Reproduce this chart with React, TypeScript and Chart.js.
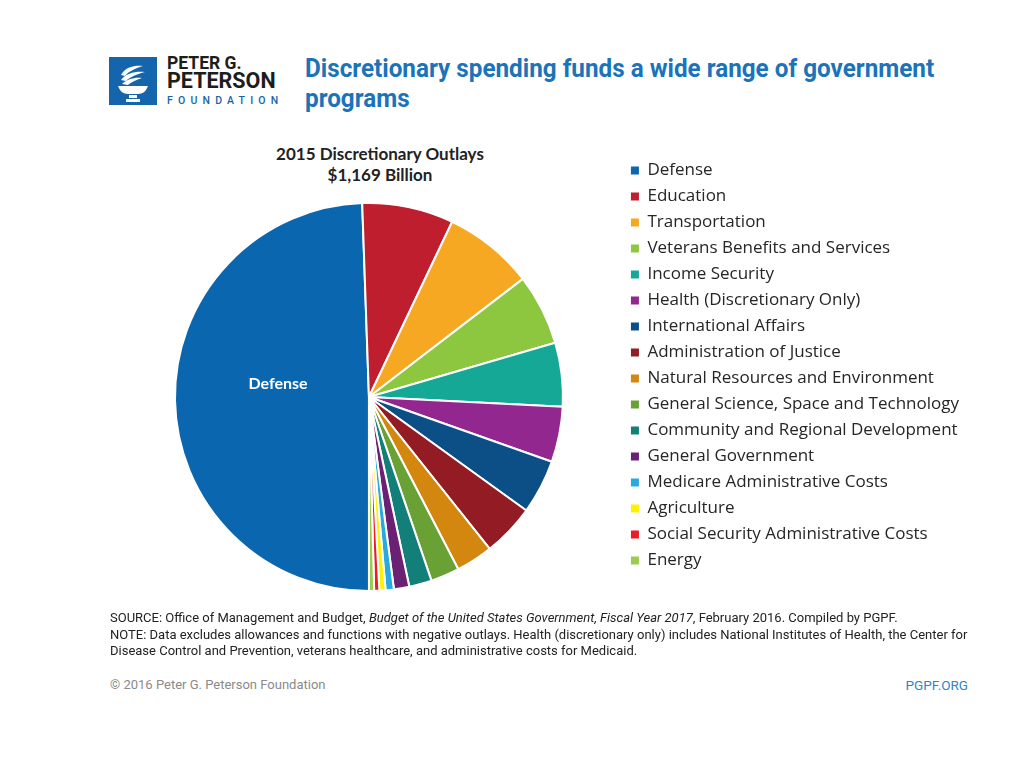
import React, { useEffect, useRef } from "react";
import { Chart, registerables } from "chart.js";

Chart.register(...registerables);

const categories = [
  "Defense",
  "Education",
  "Transportation",
  "Veterans Benefits and Services",
  "Income Security",
  "Health (Discretionary Only)",
  "International Affairs",
  "Administration of Justice",
  "Natural Resources and Environment",
  "General Science, Space and Technology",
  "Community and Regional Development",
  "General Government",
  "Medicare Administrative Costs",
  "Agriculture",
  "Social Security Administrative Costs",
  "Energy",
];

// 2015 discretionary outlays, billions of dollars
const outlays = [578, 89, 88, 69, 62, 54, 53, 51, 36, 28, 22, 15, 8, 6, 5, 5];

const sliceColors = [
  "#0b66b0",
  "#be1e2d",
  "#f7a823",
  "#8dc63f",
  "#16a897",
  "#92278f",
  "#0c4f87",
  "#931b23",
  "#d4870f",
  "#6aa134",
  "#128078",
  "#6b2173",
  "#28aae1",
  "#fff200",
  "#ed1c24",
  "#9ccb52",
];

const chartTitle = ["2015 Discretionary Outlays", "$1,169 Billion"];
const headline = ["Discretionary spending funds a wide range of government", "programs"];

const labelPlugin = {
  id: "defenseLabel",
  afterDatasetsDraw(chart: any) {
    const arc = chart.getDatasetMeta(0).data[0];
    if (!arc) return;
    const p = arc.getCenterPoint();
    const ctx = chart.ctx;
    ctx.save();
    ctx.fillStyle = "#ffffff";
    ctx.font = "bold 16px Lato, sans-serif";
    ctx.textAlign = "center";
    ctx.textBaseline = "middle";
    ctx.fillText(categories[0], p.x + 6, p.y - 15);
    ctx.restore();
  },
};

function PieChart() {
  const ref = useRef<HTMLCanvasElement>(null);
  useEffect(() => {
    if (!ref.current) return;
    const defaultGen = (Chart as any).overrides.pie.plugins.legend.labels.generateLabels;
    const chart = new Chart(ref.current, {
      type: "pie",
      data: {
        labels: categories,
        datasets: [
          {
            data: outlays,
            backgroundColor: sliceColors,
            borderColor: "#ffffff",
            borderWidth: 2,
            radius: 194,
          } as any,
        ],
      },
      options: {
        responsive: false,
        animation: false,
        rotation: 180,
        layout: { padding: 0 },
        plugins: {
          legend: {
            position: "right",
            align: "start",
            labels: {
              boxWidth: 8,
              boxHeight: 8,
              padding: 9,
              color: "#262626",
              font: { family: "'Open Sans'", size: 17 },
              generateLabels: (c: any) =>
                defaultGen(c).map((l: any) => ({ ...l, lineWidth: 0, strokeStyle: "rgba(0,0,0,0)" })),
            },
          },
          tooltip: { enabled: false },
          title: { display: false },
        },
      } as any,
      plugins: [labelPlugin],
    });
    return () => chart.destroy();
  }, []);
  return (
    <canvas
      ref={ref}
      width={853}
      height={488}
      style={{ position: "absolute", left: 116, top: 153, width: 853, height: 488 }}
    />
  );
}

function Logo() {
  return (
    <div style={{ position: "absolute", left: 109, top: 57 }}>
      <svg width="48" height="48" viewBox="0 0 48 48" style={{ position: "absolute", left: 0, top: 0 }}>
        <rect x="0" y="0" width="48" height="48" fill="#1565ad" />
        <path d="M12 18 C16 10, 26 8, 34 9 C27 11, 20 14, 16 19 Z" fill="#fff" />
        <path d="M12 23 C17 16, 27 14, 36 15 C28 17, 21 20, 17 24 Z" fill="#fff" />
        <path d="M13 27 C18 22, 26 20, 33 21 C27 23, 22 25, 19 28 Z" fill="#fff" />
        <path d="M9 29 L39 29 L37 33 C35 36, 31 37, 29 37 L19 37 C17 37, 13 36, 11 33 Z" fill="#fff" />
        <rect x="20" y="38" width="8" height="3" fill="#fff" />
        <rect x="17" y="42" width="14" height="3" fill="#fff" />
      </svg>
    </div>
  );
}

function LogoText() {
  const base: React.CSSProperties = {
    position: "absolute",
    left: 167,
    fontFamily: "Roboto, sans-serif",
    fontWeight: 700,
    color: "#1d1d1b",
    whiteSpace: "nowrap",
  };
  return (
    <>
      <div style={{ ...base, top: 55, fontSize: 17.5, lineHeight: "17px" }}>PETER G.</div>
      <div style={{ ...base, top: 70, fontSize: 21.5, lineHeight: "21px" }}>PETERSON</div>
      <div
        style={{
          ...base,
          top: 95.5,
          fontWeight: 500,
          fontSize: 10.5,
          lineHeight: "10.5px",
          letterSpacing: 5.2,
          color: "#1565ad",
        }}
      >
        FOUNDATION
      </div>
    </>
  );
}

export default function App() {
  return (
    <div
      style={{
        position: "absolute",
        left: 0,
        top: 0,
        width: 1024,
        height: 768,
        background: "#ffffff",
        overflow: "hidden",
      }}
    >
      <Logo />
      <LogoText />
      <div
        style={{
          position: "absolute",
          left: 305,
          top: 53,
          fontFamily: "Roboto, sans-serif",
          fontWeight: 700,
          fontSize: 26,
          lineHeight: "30px",
          color: "#1b73b9",
          whiteSpace: "nowrap",
          transform: "scaleX(0.933)",
          transformOrigin: "left",
        }}
      >
        <div>{headline[0]}</div>
        <div>{headline[1]}</div>
      </div>
      <div
        style={{
          position: "absolute",
          left: 230,
          top: 143,
          width: 300,
          textAlign: "center",
          fontFamily: "Lato, sans-serif",
          fontWeight: 700,
          fontSize: 17,
          lineHeight: "21px",
          color: "#222",
        }}
      >
        <div>{chartTitle[0]}</div>
        <div>{chartTitle[1]}</div>
      </div>
      <PieChart />
      <div
        style={{
          position: "absolute",
          left: 110,
          top: 610,
          fontFamily: "Roboto, sans-serif",
          fontSize: 13,
          lineHeight: "16.5px",
          color: "#222",
          whiteSpace: "nowrap",
        }}
      >
        <div>
          SOURCE: Office of Management and Budget, <i>Budget of the United States Government, Fiscal Year 2017</i>,
          February 2016. Compiled by PGPF.
        </div>
        <div>
          NOTE: Data excludes allowances and functions with negative outlays. Health (discretionary only) includes
          National Institutes of Health, the Center for
        </div>
        <div>Disease Control and Prevention, veterans healthcare, and administrative costs for Medicaid.</div>
      </div>
      <div
        style={{
          position: "absolute",
          left: 110,
          top: 677,
          fontFamily: "Roboto, sans-serif",
          fontSize: 13,
          color: "#8a8a8a",
          whiteSpace: "nowrap",
        }}
      >
        © 2016 Peter G. Peterson Foundation
      </div>
      <div
        style={{
          position: "absolute",
          right: 56,
          top: 677,
          fontFamily: "Roboto, sans-serif",
          fontSize: 13.5,
          color: "#2f86cc",
          whiteSpace: "nowrap",
        }}
      >
        PGPF.ORG
      </div>
    </div>
  );
}
